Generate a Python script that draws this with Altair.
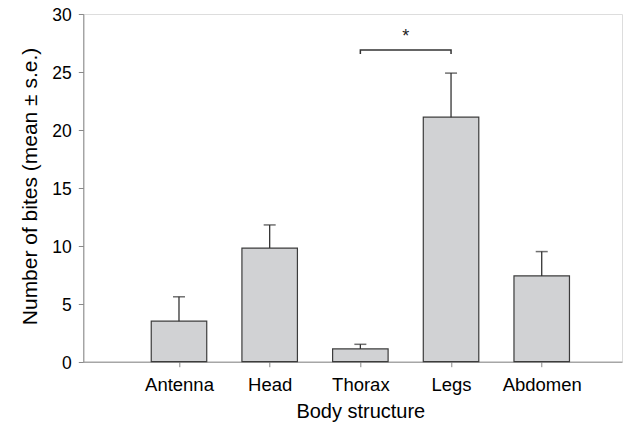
import altair as alt
import pandas as pd

categories = ["Antenna", "Head", "Thorax", "Legs", "Abdomen"]
means = [3.5, 9.8, 1.1, 21.1, 7.4]
upper = [5.6, 11.8, 1.5, 24.9, 9.5]

sig_pair = ["Thorax", "Legs"]
bracket_y = 26.9
bracket_drop = 0.35
sig_label = "*"
sig_label_y = 28.0

positions = list(range(1, len(categories) + 1))
df = pd.DataFrame({"pos": positions, "cat": categories, "mean": means, "upper": upper})

p1 = categories.index(sig_pair[0]) + 1
p2 = categories.index(sig_pair[1]) + 1
bracket = pd.DataFrame({
    "x": [p1, p1, p2, p2],
    "y": [bracket_y - bracket_drop, bracket_y, bracket_y, bracket_y - bracket_drop],
    "o": [0, 1, 2, 3],
})
star = pd.DataFrame({"x": [(p1 + p2) / 2], "y": [sig_label_y], "t": [sig_label]})

label_expr = "[" + ",".join(f"'{c}'" for c in categories) + "][datum.value - 1]"

FONT = "Liberation Sans"
xscale = alt.Scale(domain=[0, 5.83], nice=False, zero=False)
yscale = alt.Scale(domain=[0, 30], nice=False)

x_axis = alt.Axis(values=positions, labelExpr=label_expr, grid=False,
                  title="Body structure", tickSize=5, labelPadding=24,
                  labelBaseline="alphabetic", labelFontSize=18.5, titleFontSize=20,
                  titleFontWeight="normal", titleBaseline="alphabetic", titleY=56,
                  titleX=277, labelFlush=False)
y_axis = alt.Axis(values=[0, 5, 10, 15, 20, 25, 30], grid=False,
                  title="Number of bites (mean ± s.e.)", tickSize=5, labelPadding=7,
                  labelFontSize=17.5, labelOffset=2, labelFlush=False,
                  titleFontSize=21, titleFontWeight="normal",
                  titleBaseline="alphabetic", titleX=-47, titleY=172, titleAlign="center")

bars = alt.Chart(df).mark_bar(size=55.5, fill="#d1d2d4", stroke="#3c3c3c", strokeWidth=1.2).encode(
    x=alt.X("pos:Q", scale=xscale, axis=x_axis),
    y=alt.Y("mean:Q", scale=yscale, axis=y_axis),
)

err = alt.Chart(df).mark_rule(color="#333333", strokeWidth=1.3).encode(
    x=alt.X("pos:Q", scale=xscale),
    y=alt.Y("mean:Q", scale=yscale),
    y2="upper:Q",
)

caps = alt.Chart(df).mark_tick(orient="horizontal", size=12, thickness=1.5, color="#333333").encode(
    x=alt.X("pos:Q", scale=xscale),
    y=alt.Y("upper:Q", scale=yscale),
)

br = alt.Chart(bracket).mark_line(color="#333333", strokeWidth=1.5).encode(
    x=alt.X("x:Q", scale=xscale),
    y=alt.Y("y:Q", scale=yscale),
    order="o:Q",
)

st = alt.Chart(star).mark_text(font=FONT, fontSize=18, color="#222222", baseline="middle").encode(
    x=alt.X("x:Q", scale=xscale),
    y=alt.Y("y:Q", scale=yscale),
    text="t:N",
)

chart = alt.layer(bars, err, caps, br, st).properties(
    width=538.7, height=347.7,
    autosize=alt.AutoSizeParams(type="none"),
    padding={"left": 75.3, "top": 6, "right": 1, "bottom": 75},
).configure_view(stroke=None).configure_axis(
    domainColor="#555555", tickColor="#555555", labelColor="#222222",
    titleColor="#222222", labelFont=FONT, titleFont=FONT, domainWidth=1.2, tickWidth=1.2,
).configure(background="white")

chart.save("out.html", embed_options={"renderer": "svg", "actions": False})
